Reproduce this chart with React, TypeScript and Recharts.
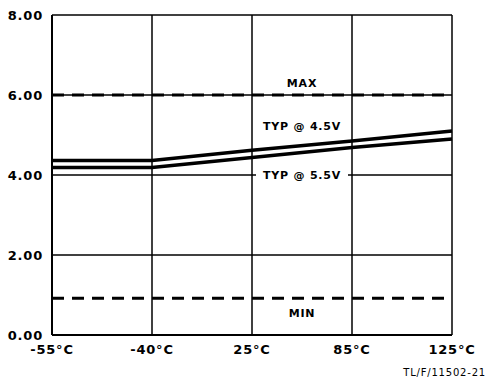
import React from 'react';
import {
  LineChart,
  Line,
  XAxis,
  YAxis,
  CartesianGrid,
  ReferenceLine,
} from 'recharts';

const temps = ['-55°C', '-40°C', '25°C', '85°C', '125°C'];
const typ45 = [4.36, 4.36, 4.62, 4.85, 5.1];
const typ55 = [4.19, 4.19, 4.44, 4.69, 4.9];
const yTicks = [0, 2, 4, 6, 8];
const maxLimit = 6;
const minLimit = 0.92;

const data = temps.map((t, i) => ({ temp: t, v45: typ45[i], v55: typ55[i] }));

const labelFont = {
  fontFamily: '"DejaVu Sans", sans-serif',
  fontWeight: 700,
  fontSize: 11,
  letterSpacing: 0.8,
};

// labels sit in the 25°C..85°C cell
const cellText = (lines: { text: string; dy: number; boxed?: boolean }[]) => (props: any) => {
  const vb = props.viewBox || {};
  const cx = vb.x + vb.width * 0.625;
  return (
    <g>
      {lines.map((l) => (
        <g key={l.text}>
          {l.boxed && <rect x={cx - 46} y={vb.y + l.dy - 8} width={92} height={16} fill="#fff" />}
          <text x={cx} y={vb.y + l.dy} textAnchor="middle" dominantBaseline="central" fill="#000" style={labelFont}>
            {l.text}
          </text>
        </g>
      ))}
    </g>
  );
};

const tickStyle = {
  fill: '#000',
  fontFamily: '"DejaVu Sans", sans-serif',
  fontWeight: 700,
  fontSize: 13,
  letterSpacing: 0.8,
};

const App: React.FC = () => {
  return (
    <div style={{ position: 'absolute', left: 0, top: 0, width: 488, height: 386, background: '#fff' }}>
      <LineChart width={488} height={386} data={data} margin={{ top: 15, right: 36, left: 0, bottom: 21 }}>
        <CartesianGrid stroke="#000" strokeWidth={1.5} />
        <XAxis
          dataKey="temp"
          height={30}
          tickSize={0}
          tickMargin={10}
          axisLine={{ stroke: '#000', strokeWidth: 2 }}
          tick={tickStyle}
          interval={0}
        />
        <YAxis
          width={52}
          domain={[0, 8]}
          ticks={yTicks}
          tickSize={0}
          tickMargin={9}
          axisLine={{ stroke: '#000', strokeWidth: 2 }}
          tick={tickStyle}
          tickFormatter={(v: number) => v.toFixed(2)}
        />
        <ReferenceLine
          y={maxLimit}
          stroke="#000"
          strokeWidth={3}
          strokeDasharray="12 8"
          label={cellText([
            { text: 'MAX', dy: -12 },
            { text: 'TYP @ 4.5V', dy: 31 },
          ])}
        />
        <ReferenceLine
          y={4}
          stroke="none"
          label={cellText([{ text: 'TYP @ 5.5V', dy: 0, boxed: true }])}
        />
        <ReferenceLine
          y={minLimit}
          stroke="#000"
          strokeWidth={3}
          strokeDasharray="12 8"
          label={cellText([{ text: 'MIN', dy: 15 }])}
        />
        <Line type="linear" dataKey="v45" stroke="#000" strokeWidth={3.5} dot={false} isAnimationActive={false} />
        <Line type="linear" dataKey="v55" stroke="#000" strokeWidth={3.5} dot={false} isAnimationActive={false} />
      </LineChart>
      <div
        style={{
          position: 'absolute',
          right: 2,
          top: 367,
          fontFamily: '"DejaVu Sans", sans-serif',
          fontSize: 10,
          letterSpacing: 0.8,
          color: '#000',
        }}
      >
        TL/F/11502-21
      </div>
    </div>
  );
};

export default App;
